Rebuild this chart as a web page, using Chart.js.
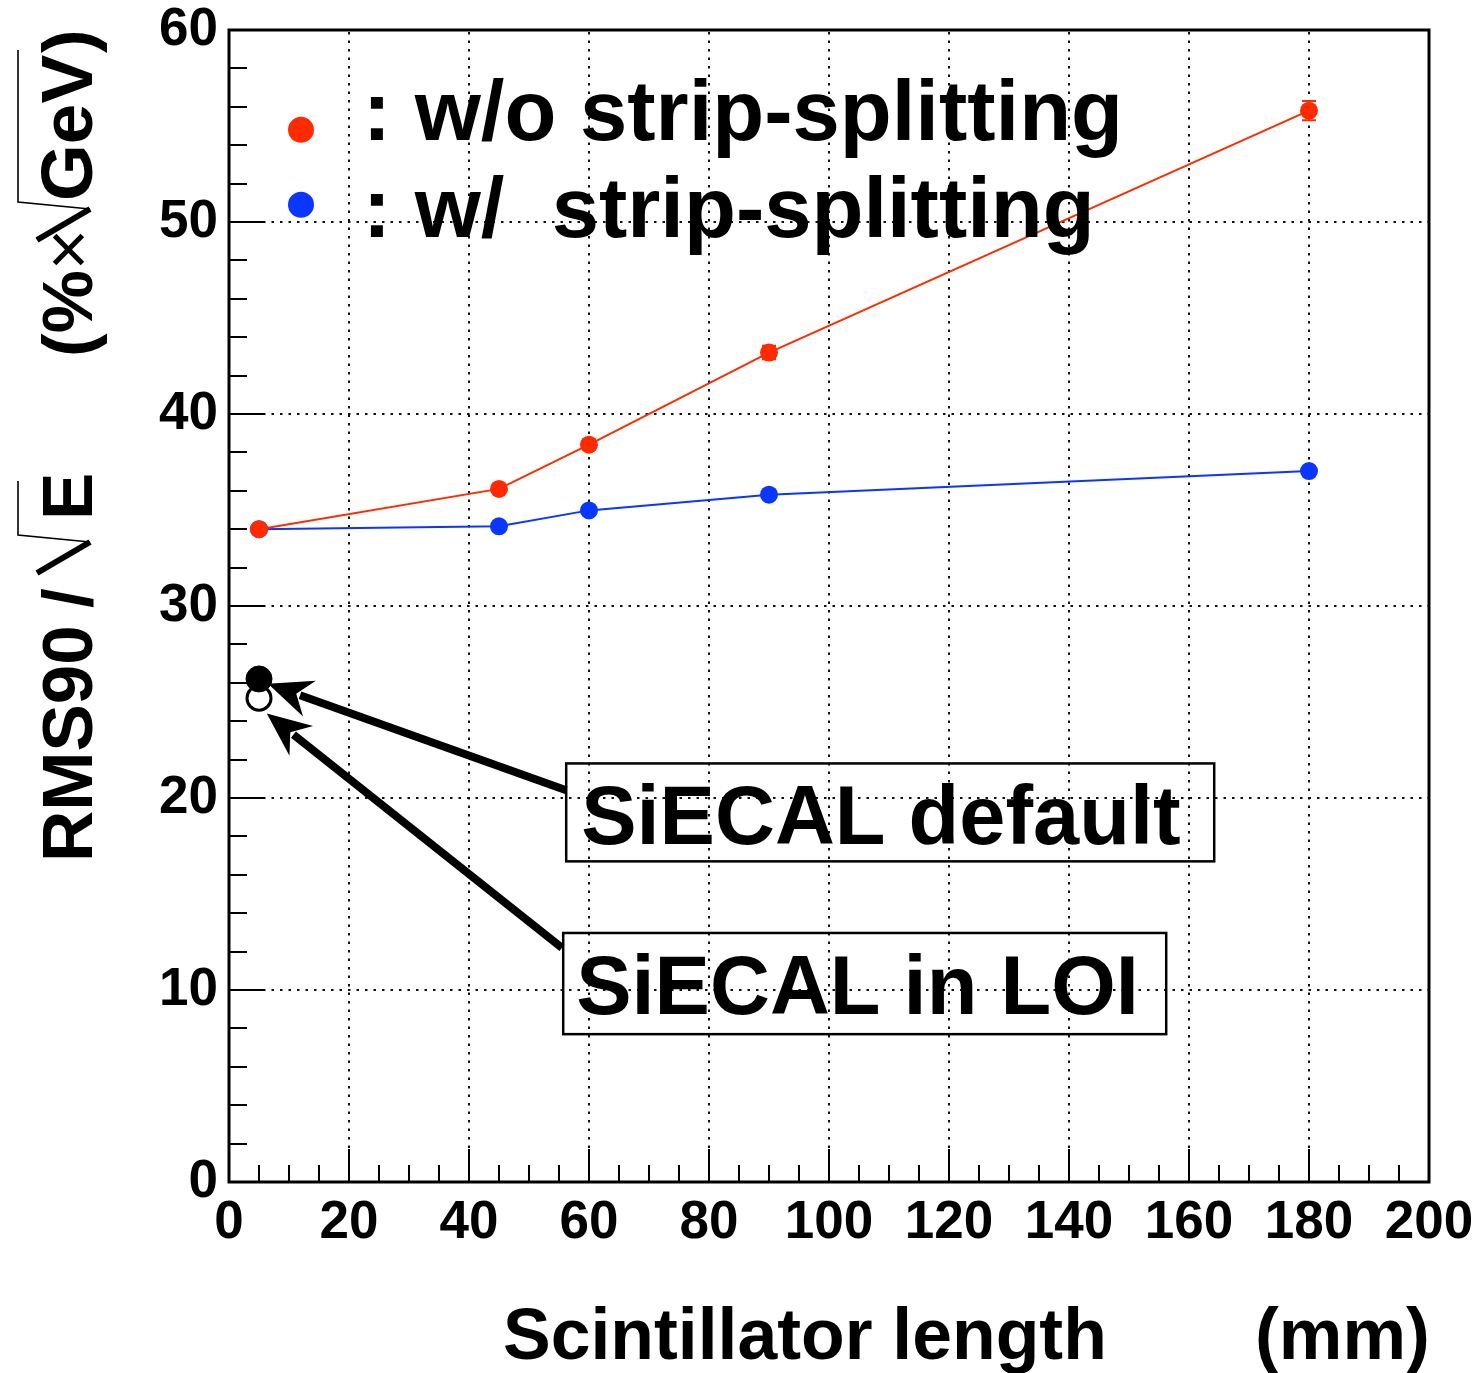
<!DOCTYPE html>
<html>
<head>
<meta charset="utf-8">
<script src="https://cdn.jsdelivr.net/npm/chart.js@4/dist/chart.umd.min.js"></script>
<style>
html,body{margin:0;padding:0;background:#fff;}
canvas{display:block;}
</style>
</head>
<body>
<canvas id="c" width="1482" height="1373" style="width:1482px;height:1373px"></canvas>
<script>
// ---------- data ----------
const xValues = [5, 45, 60, 90, 180];
const redValues = [34.0, 36.1, 38.4, 43.2, 55.8];
const redErrors = [0.15, 0.2, 0.25, 0.35, 0.5];
const blueValues = [34.0, 34.15, 34.98, 35.8, 37.03];
const siecalX = [5];
const siecalDefault = [26.2];
const siecalLOI = [25.2];
const xTickValues = [0, 20, 40, 60, 80, 100, 120, 140, 160, 180, 200];
const yTickValues = [0, 10, 20, 30, 40, 50, 60];
const legendLabels = [': w/o strip-splitting', ': w/  strip-splitting'];
const annotationLabels = ['SiECAL default', 'SiECAL in LOI'];
const xTitle = ['Scintillator length', '(mm)'];

const RED = '#ff2a00';
const BLUE = '#0a36ff';
const FONT = '"Liberation Sans", Arial, Helvetica, sans-serif';

function pts(xs, ys) { return xs.map((x, i) => ({x: x, y: ys[i]})); }

const overlay = {
  id: 'overlay',
  beforeDatasetsDraw(chart) {
    const ctx = chart.ctx, xs = chart.scales.x, ys = chart.scales.y;
    const a = chart.chartArea;
    ctx.save();
    // dotted grid
    ctx.strokeStyle = '#111';
    ctx.lineWidth = 2;
    ctx.setLineDash([2.5, 6]);
    xTickValues.forEach(v => {
      if (v === xs.min || v === xs.max) return;
      const px = Math.round(xs.getPixelForValue(v));
      ctx.beginPath(); ctx.moveTo(px, a.bottom); ctx.lineTo(px, a.top); ctx.stroke();
    });
    yTickValues.forEach(v => {
      if (v === ys.min || v === ys.max) return;
      const py = Math.round(ys.getPixelForValue(v));
      ctx.beginPath(); ctx.moveTo(a.left, py); ctx.lineTo(a.right, py); ctx.stroke();
    });
    ctx.setLineDash([]);
    // inner ticks
    ctx.strokeStyle = '#000';
    ctx.lineWidth = 2;
    for (let v = xs.min; v <= xs.max; v += 5) {
      const px = Math.round(xs.getPixelForValue(v));
      const len = (v % 20 === 0) ? 33 : 17;
      ctx.beginPath(); ctx.moveTo(px, a.bottom); ctx.lineTo(px, a.bottom - len); ctx.stroke();
    }
    for (let v = ys.min; v <= ys.max; v += 2) {
      const py = Math.round(ys.getPixelForValue(v));
      const len = (v % 10 === 0) ? 36 : 18;
      ctx.beginPath(); ctx.moveTo(a.left, py); ctx.lineTo(a.left + len, py); ctx.stroke();
    }
    // frame
    ctx.lineWidth = 3;
    ctx.strokeRect(a.left, a.top, a.right - a.left, a.bottom - a.top);
    ctx.restore();
  },
  afterDatasetsDraw(chart) {
    const ctx = chart.ctx, xs = chart.scales.x, ys = chart.scales.y;
    const X = v => xs.getPixelForValue(v), Y = v => ys.getPixelForValue(v);
    ctx.save();
    // error bars on red series
    ctx.strokeStyle = RED; ctx.lineWidth = 2;
    xValues.forEach((x, i) => {
      const px = X(x), y1 = Y(redValues[i] - redErrors[i]), y2 = Y(redValues[i] + redErrors[i]);
      ctx.beginPath(); ctx.moveTo(px, y1); ctx.lineTo(px, y2);
      ctx.moveTo(px - 7, y1); ctx.lineTo(px + 7, y1);
      ctx.moveTo(px - 7, y2); ctx.lineTo(px + 7, y2);
      ctx.stroke();
    });
    // legend
    ctx.fillStyle = RED;
    ctx.beginPath(); ctx.arc(X(12), Y(54.8), 13, 0, Math.PI * 2); ctx.fill();
    ctx.fillStyle = BLUE;
    ctx.beginPath(); ctx.arc(X(12), Y(50.9), 13, 0, Math.PI * 2); ctx.fill();
    ctx.fillStyle = '#000';
    ctx.font = 'bold 85px ' + FONT;
    ctx.textAlign = 'left'; ctx.textBaseline = 'alphabetic';
    ctx.fillText(legendLabels[0], X(22.3), Y(54.27));
    ctx.fillText(legendLabels[1], X(22.3), Y(49.2));
    // annotation boxes
    ctx.strokeStyle = '#000'; ctx.lineWidth = 2.5;
    ctx.strokeRect(X(56.2), Y(21.8), X(164.2) - X(56.2), Y(16.7) - Y(21.8));
    ctx.strokeRect(X(55.7), Y(12.97), X(156.2) - X(55.7), Y(7.7) - Y(12.97));
    ctx.font = 'bold 83px ' + FONT;
    ctx.fillText(annotationLabels[0], X(56.2) + 15, Y(17.6));
    ctx.fillText(annotationLabels[1], X(55.7) + 13, Y(8.75));
    // arrows
    const arrow = (x0, y0, x1, y1) => {
      const sx = X(x0), sy = Y(y0), tx = X(x1), ty = Y(y1);
      const ang = Math.atan2(ty - sy, tx - sx);
      const hl = 44, hw = 19;
      const c = Math.cos(ang), s = Math.sin(ang);
      const bx = tx - hl * c, by = ty - hl * s;
      ctx.lineWidth = 8; ctx.lineCap = 'butt';
      ctx.beginPath(); ctx.moveTo(sx, sy); ctx.lineTo(bx + 10 * c, by + 10 * s); ctx.stroke();
      ctx.beginPath();
      ctx.moveTo(tx, ty);
      ctx.lineTo(bx + hw * s, by - hw * c);
      ctx.lineTo(bx + 14 * c, by + 14 * s);
      ctx.lineTo(bx - hw * s, by + hw * c);
      ctx.closePath(); ctx.fill();
    };
    arrow(56.2, 20.4, 6.5, 25.95);
    arrow(55.5, 12.2, 6.3, 24.4);
    ctx.restore();
  },
  afterDraw(chart) {
    const ctx = chart.ctx;
    ctx.save();
    ctx.fillStyle = '#000'; ctx.strokeStyle = '#000';
    // x title
    ctx.font = 'bold 71.5px ' + FONT;
    ctx.textAlign = 'left'; ctx.textBaseline = 'alphabetic';
    ctx.fillText(xTitle[0], 503, 1359);
    ctx.fillText(xTitle[1], 1255, 1359);
    // y title (rotated)
    ctx.translate(92, 862);
    ctx.rotate(-Math.PI / 2);
    ctx.font = 'bold 71px ' + FONT;
    ctx.fillText('RMS90', 0, 0);
    ctx.fillText('/', 254, 0);
    const radical = (u0, uEnd) => {
      ctx.lineCap = 'butt';
      ctx.lineWidth = 6;
      ctx.beginPath(); ctx.moveTo(u0, -55); ctx.lineTo(u0 + 31, -2); ctx.stroke();
      ctx.lineWidth = 1.6;
      ctx.beginPath(); ctx.moveTo(u0 + 31, -2); ctx.lineTo(u0 + 38, -74); ctx.lineTo(uEnd, -74); ctx.stroke();
    };
    radical(289, 381);
    ctx.fillText('E', 342, 0);
    ctx.fillText('(%', 505, 0);
    const pw = ctx.measureText('(%').width;
    ctx.font = '71px ' + FONT;
    ctx.fillText('\u00d7', 505 + pw, 0);
    radical(622, 812);
    ctx.font = 'bold 73px ' + FONT;
    ctx.fillText('GeV', 661, 0);
    const gw = ctx.measureText('GeV').width;
    ctx.font = 'bold 71px ' + FONT;
    ctx.fillText(')', 661 + gw + 2, 0);
    ctx.restore();
  }
};

const tickFont = {family: FONT, weight: 'bold', size: 53};

new Chart(document.getElementById('c'), {
  type: 'scatter',
  data: {
    datasets: [
      {data: pts(siecalX, siecalDefault), backgroundColor: '#000', borderColor: '#000', pointRadius: 13, showLine: false, order: 0},
      {data: pts(siecalX, siecalLOI), backgroundColor: '#fff', borderColor: '#000', borderWidth: 3, pointRadius: 12, showLine: false, order: 1},
      {data: pts(xValues, redValues), borderColor: RED, backgroundColor: RED, borderWidth: 2, pointRadius: 9, pointBorderWidth: 0, showLine: true, order: 2},
      {data: pts(xValues, blueValues), borderColor: BLUE, backgroundColor: BLUE, borderWidth: 2, pointRadius: 9, pointBorderWidth: 0, showLine: true, order: 3}
    ]
  },
  options: {
    responsive: false,
    animation: false,
    devicePixelRatio: 1,
    layout: {padding: {top: 30, right: 53, left: 0, bottom: 0}},
    plugins: {legend: {display: false}, tooltip: {enabled: false}, title: {display: false}},
    scales: {
      x: {
        type: 'linear', min: 0, max: 200,
        afterBuildTicks: s => { s.ticks = xTickValues.map(v => ({value: v})); },
        afterFit: s => { s.height = 191; s.paddingLeft = 0; s.paddingRight = 0; },
        grid: {display: false},
        border: {display: false},
        ticks: {font: tickFont, color: '#000', padding: 2, maxRotation: 0, autoSkip: false}
      },
      y: {
        type: 'linear', min: 0, max: 60,
        afterBuildTicks: s => { s.ticks = yTickValues.map(v => ({value: v})); },
        afterFit: s => { s.width = 229; s.paddingTop = 0; s.paddingBottom = 0; },
        grid: {display: false},
        border: {display: false},
        ticks: {font: tickFont, color: '#000', padding: 3, autoSkip: false}
      }
    }
  },
  plugins: [overlay]
});
</script>
</body>
</html>
